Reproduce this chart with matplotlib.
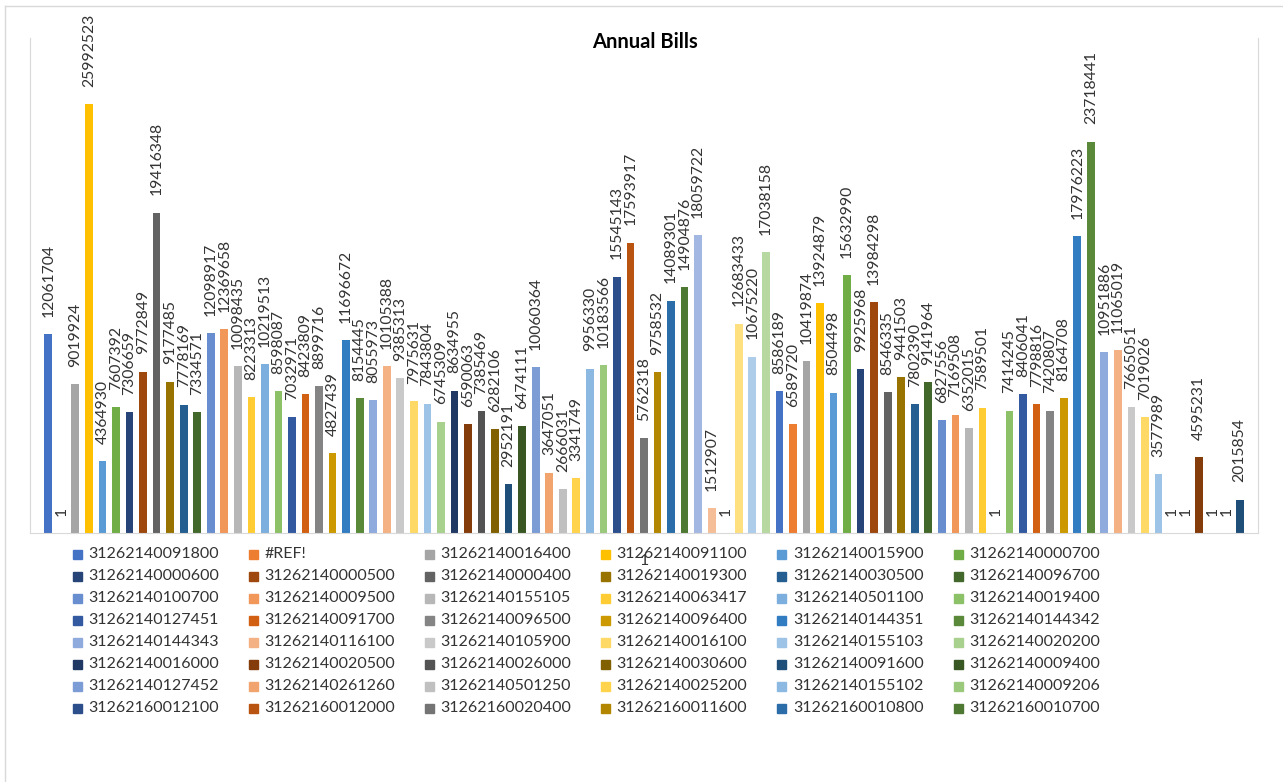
import colorsys
import numpy as np
import matplotlib
matplotlib.use("Agg")
import matplotlib.pyplot as plt
from matplotlib.patches import Rectangle
from matplotlib.lines import Line2D

plt.rcParams["font.family"] = ["Lato", "DejaVu Sans"]

# ── Data ──────────────────────────────────────────────────
category = "1"

annual_bills = [
    12061704, 1, 9019924, 25992523, 4364930, 7607392,
    7306659, 9772849, 19416348, 9177485, 7778169, 7334571,
    12098917, 12369658, 10098435, 8223313, 10219513, 8598087,
    7032971, 8423809, 8899716, 4827439, 11696672, 8154445,
    8055973, 10105388, 9385313, 7975631, 7843804, 6745309,
    8634955, 6590063, 7385469, 6282106, 2952191, 6474111,
    10060364, 3647051, 2666031, 3341749, 9956330, 10183566,
    15545143, 17593917, 5762318, 9758532, 14089301, 14904876,
    18059722, 1512907, 1, 12683433, 10675220, 17038158,
    8586189, 6589720, 10419874, 13924879, 8504498, 15632990,
    9925968, 13984298, 8546335, 9441503, 7802390, 9141964,
    6827556, 7169508, 6352015, 7589501, 1, 7414245,
    8406041, 7798816, 7420807, 8164708, 17976223, 23718441,
    10951886, 11065019, 7665051, 7019026, 3577989, 1,
    1, 4595231, 1, 1, 2015854,
]

# only the first 48 series fit in the legend
legend_names = [
    "31262140091800", "#REF!", "31262140016400", "31262140091100", "31262140015900", "31262140000700",
    "31262140000600", "31262140000500", "31262140000400", "31262140019300", "31262140030500", "31262140096700",
    "31262140100700", "31262140009500", "31262140155105", "31262140063417", "31262140501100", "31262140019400",
    "31262140127451", "31262140091700", "31262140096500", "31262140096400", "31262140144351", "31262140144342",
    "31262140144343", "31262140116100", "31262140105900", "31262140016100", "31262140155103", "31262140020200",
    "31262140016000", "31262140020500", "31262140026000", "31262140030600", "31262140091600", "31262140009400",
    "31262140127452", "31262140261260", "31262140501250", "31262140025200", "31262140155102", "31262140009206",
    "31262160012100", "31262160012000", "31262160020400", "31262160011600", "31262160010800", "31262160010700",
]

# ── Office palette: 6 accents x 9 luminance variants ─────
accents = ["#4472C4", "#ED7D31", "#A5A5A5", "#FFC000", "#5B9BD5", "#70AD47"]
lum_variants = [(1.0, 0.0), (0.6, 0.0), (0.8, 0.2), (0.8, 0.0), (0.6, 0.4),
                (0.5, 0.0), (0.7, 0.3), (0.7, 0.0), (0.5, 0.5)]


def office_color(i):
    i = i % 54
    mod, off = lum_variants[i // 6]
    r, g, b = matplotlib.colors.to_rgb(accents[i % 6])
    h, l, s = colorsys.rgb_to_hls(r, g, b)
    return colorsys.hls_to_rgb(h, min(1.0, l * mod + off), s)


colors = [office_color(i) for i in range(len(annual_bills))]

W, H = 1283, 782
fig = plt.figure(figsize=(W / 100, H / 100), dpi=100)


def fx(px):
    return px / W


def fy(py):
    return 1 - py / H


# ── Bars ──────────────────────────────────────────────────
ax = fig.add_axes([fx(30), fy(533), fx(1258) - fx(30), fy(38) - fy(533)])
n = len(annual_bills)
xpos = np.arange(n)
ax.bar(xpos, annual_bills, width=0.57, color=colors, zorder=2)

for x, v in zip(xpos, annual_bills):
    ax.annotate(f"{v}", (x, v), xytext=(0, 12.5), textcoords="offset points",
                rotation=90, ha="center", va="bottom", fontsize=11.3,
                color="#333333")

ax.set_xlim(-1.35, n - 1 + 1.35)
ax.set_ylim(0, 30_000_000)
ax.set_xticks([(n - 1) / 2])
ax.set_xticklabels([category], fontsize=11.5, color="#333333")
ax.tick_params(axis="x", length=0, pad=15)
ax.set_yticks([])
for side in ["left", "right", "bottom"]:
    ax.spines[side].set_color("#D9D9D9")
ax.spines["top"].set_visible(False)

fig.text(fx(645), fy(42), "Annual Bills", ha="center", va="center",
         fontsize=14.5, fontweight="bold", color="black")

# ── Legend (row-wise like Excel) ──────────────────────────
msize = 9
for k, name in enumerate(legend_names):
    r, c = divmod(k, 6)
    mx = 77 + c * 176.2
    my = 554 + r * 22
    fig.patches.append(Rectangle((fx(mx - msize / 2), fy(my + msize / 2)),
                                 fx(msize), msize / H,
                                 transform=fig.transFigure, color=colors[k]))
    fig.text(fx(mx + 11), fy(my), name, ha="left", va="center",
             fontsize=11.5, color="#333333")

# chart area border
fig.lines.append(Line2D([fx(5), 1], [fy(6), fy(6)], transform=fig.transFigure,
                        color="#D9D9D9", lw=1))
fig.lines.append(Line2D([fx(5), fx(5)], [fy(6), 0], transform=fig.transFigure,
                        color="#D9D9D9", lw=1))

fig.savefig("out.png", dpi=100)
